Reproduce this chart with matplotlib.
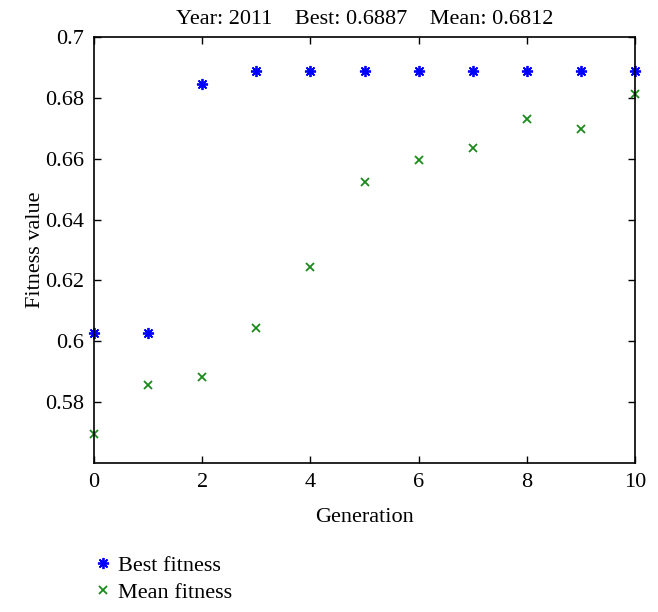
import matplotlib
matplotlib.use("Agg")
from matplotlib import pyplot as plt

generation = list(range(0, 11))
best_fitness = [0.6026, 0.6026, 0.6845, 0.6887, 0.6887, 0.6887, 0.6887, 0.6887, 0.6887, 0.6887, 0.6887]
mean_fitness = [0.5695, 0.5855, 0.5884, 0.6045, 0.6245, 0.6523, 0.6595, 0.6635, 0.6731, 0.6698, 0.6812]

plt.rcParams['font.family'] = ['Liberation Serif', 'DejaVu Serif']

fig = plt.figure(figsize=(6.58, 6.12), dpi=100)
ax = fig.add_axes([94/658, 1-463/612, (635-94)/658, (463-37)/612])

ax.plot(generation, best_fitness, linestyle='none', marker=(8, 2, 0), markersize=8,
        color='#0000ff', markeredgewidth=1.3, label='Best fitness', clip_on=False)
ax.plot(generation, mean_fitness, linestyle='none', marker='x', markersize=6,
        color='#1a8a1a', markeredgewidth=1.3, label='Mean fitness', clip_on=False)

ax.set_xlim(0, 10)
ax.set_ylim(0.56, 0.70)
ax.set_xticks(range(0, 11, 2))
ax.set_yticks([0.58, 0.6, 0.62, 0.64, 0.66, 0.68, 0.7])
ax.set_yticklabels(['0.58', '0.6', '0.62', '0.64', '0.66', '0.68', '0.7'])
ax.tick_params(direction='in', top=True, right=True, labelsize=16, length=5, width=1, pad=7)
for s in ax.spines.values():
    s.set_linewidth(1.2)

ax.set_xlabel('Generation', fontsize=16, labelpad=12)
ax.set_ylabel('Fitness value', fontsize=16, labelpad=0)
ax.set_title('Year: 2011    Best: 0.6887    Mean: 0.6812', fontsize=16, pad=9)

fig.legend(loc='upper left', bbox_to_anchor=(74/658, 1-535/612), frameon=False,
           fontsize=16, handlelength=0.8, handletextpad=0.3, labelspacing=0.3)

plt.savefig('out.png', dpi=100)
